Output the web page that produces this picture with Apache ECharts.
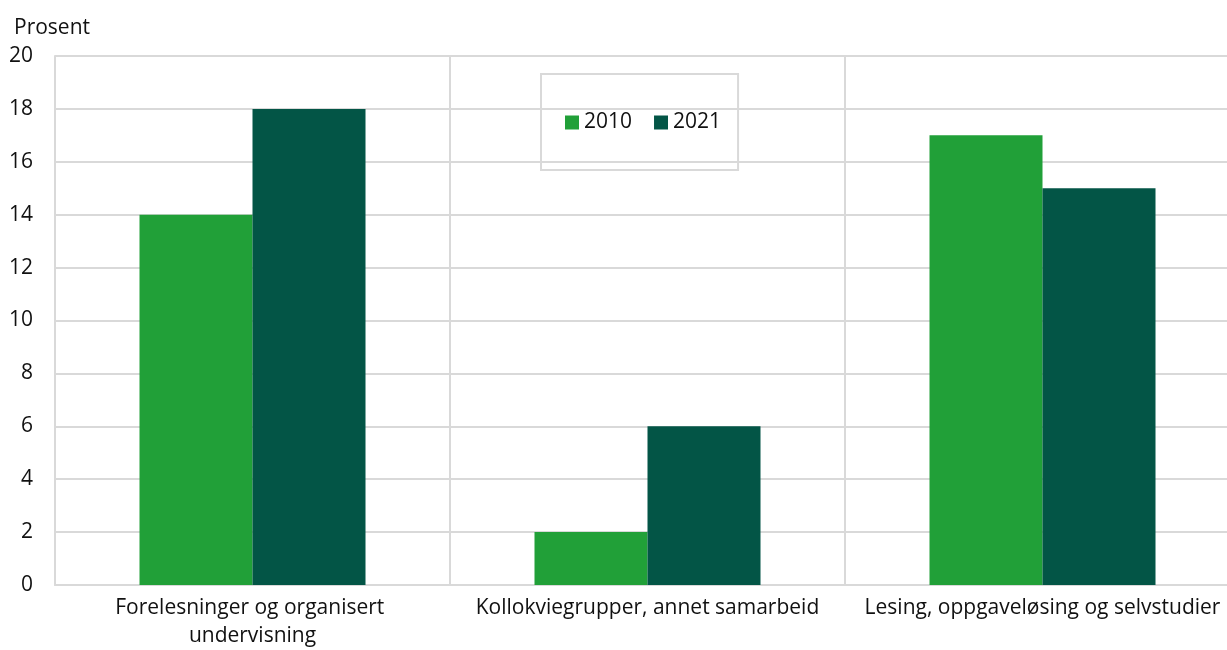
<!DOCTYPE html>
<html>
<head>
<meta charset="utf-8">
<script src="https://cdn.jsdelivr.net/npm/echarts@6/dist/echarts.min.js"></script>
<style>
  html, body { margin: 0; padding: 0; background: #fff; }
  .wrap { width: 1227px; height: 650px; overflow: hidden; position: relative; }
  #chart { width: 1240px; height: 650px; }
</style>
</head>
<body>
<div class="wrap"><div id="chart"></div></div>
<script>
const categories = [
  "Forelesninger og organisert undervisning",
  "Kollokviegrupper, annet samarbeid",
  "Lesing, oppgaveløsing og selvstudier",
];
const values2010 = [14, 2, 17];
const values2021 = [18, 6, 15];

const gridColor = "#d9d9d9";
const textColor = "#111";
const font = "'Open Sans', 'Noto Sans', sans-serif";

const myChart = echarts.init(document.getElementById("chart"));

const option = {
  textStyle: { fontFamily: font },
  title: {
    text: "Prosent",
    left: 9,
    top: 13,
    textStyle: { fontFamily: font, fontSize: 21, fontWeight: "normal", color: textColor },
  },
  legend: {
    left: 541,
    top: 74,
    padding: [38, 17, 37, 24],
    borderColor: gridColor,
    borderWidth: 2,
    itemWidth: 14,
    itemHeight: 14,
    itemGap: 22,
    icon: "rect",
    textStyle: { fontFamily: font, fontSize: 21, color: textColor },
    data: ["2010", "2021"],
  },
  grid: {
    left: 55,
    right: 0,
    top: 56,
    bottom: 62,
    containLabel: false,
  },
  xAxis: {
    type: "category",
    data: categories,
    axisLine: { show: true, lineStyle: { color: gridColor, width: 2 } },
    axisTick: { show: false },
    splitLine: { show: true, lineStyle: { color: gridColor, width: 2 } },
    axisLabel: {
      fontFamily: font,
      fontSize: 21,
      color: textColor,
      margin: 9,
      lineHeight: 28,
      width: 385,
      overflow: "break",
      interval: 0,
    },
  },
  yAxis: {
    type: "value",
    min: 0,
    max: 20,
    interval: 2,
    axisLine: { show: true, lineStyle: { color: gridColor, width: 2 } },
    axisTick: { show: false },
    splitLine: { show: true, lineStyle: { color: gridColor, width: 2 } },
    axisLabel: { fontFamily: font, fontSize: 21, color: textColor, margin: 22 },
  },
  series: [
    {
      name: "2010",
      type: "bar",
      data: values2010,
      barWidth: 113,
      barGap: "0%",
      itemStyle: { color: "#21a038" },
    },
    {
      name: "2021",
      type: "bar",
      data: values2021,
      barWidth: 113,
      barGap: "0%",
      itemStyle: { color: "#035546" },
    },
  ],
};

myChart.setOption(option);
</script>
</body>
</html>
